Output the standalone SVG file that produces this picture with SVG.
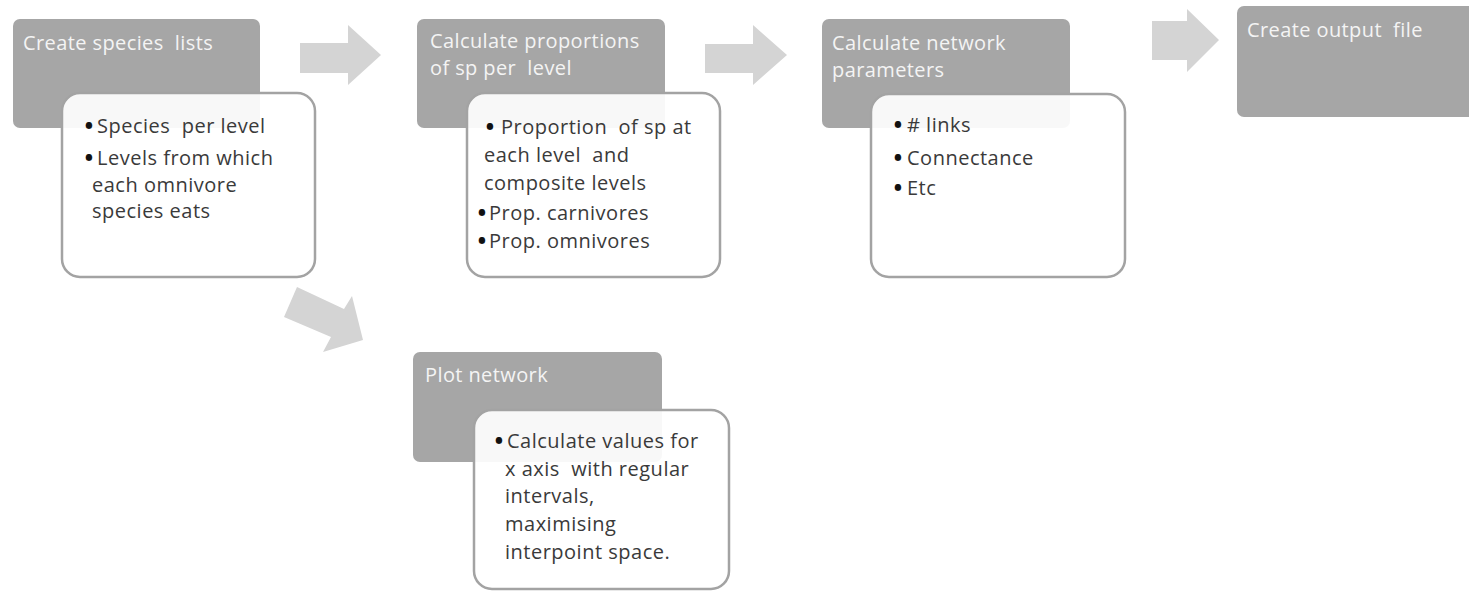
<svg xmlns="http://www.w3.org/2000/svg" width="1469" height="591" viewBox="0 0 1469 591">
  <style>
    text { white-space: pre; }
    .head { fill: #a6a6a6; }
    .body { fill: #ffffff; fill-opacity: 0.92; stroke: #a3a3a3; stroke-width: 2.5; }
    .title { font-family: "Open Sans", "Liberation Sans", sans-serif; font-size: 20px; letter-spacing: 0.4px; fill: #f4f4f4; }
    .txt { font-family: "Open Sans", "Liberation Sans", sans-serif; font-size: 20px; letter-spacing: 0.5px; fill: #3a3a3a; }
    .bul { font-weight: 800; fill: #111111; letter-spacing: 0; }
    .arrow { fill: #d4d4d4; }
  </style>
  <rect width="1469" height="591" fill="#ffffff"/>

  <g id="connectors">
    <polygon class="arrow" points="300,43 348,43 348,25 381,55 348,85 348,73 300,73"/>
    <polygon class="arrow" points="705,44 753,44 753,25 787,55 753,85 753,73 705,73"/>
    <polygon class="arrow" points="1152,21 1187,21 1187,9 1219,40 1187,72 1187,60 1152,60"/>
    <polygon class="arrow" points="297,287 344,309 352,296 363,340 323,352 331,337 284,317"/>
  </g>

  <g id="node-species">
    <rect class="head" x="13" y="19" width="247" height="109" rx="7"/>
    <text class="title" x="23" y="50">Create species  lists</text>
    <rect class="body" x="62" y="93" width="253" height="184" rx="18"/>
    <text class="txt" x="85" y="133"><tspan class="bul">•</tspan><tspan x="97">Species  per level</tspan></text>
    <text class="txt" x="85" y="165"><tspan class="bul">•</tspan><tspan x="97">Levels from which</tspan></text>
    <text class="txt" x="92" y="192">each omnivore</text>
    <text class="txt" x="92" y="218">species eats</text>
  </g>

  <g id="node-proportions">
    <rect class="head" x="417" y="19" width="248" height="109" rx="7"/>
    <text class="title" x="430" y="48">Calculate proportions</text>
    <text class="title" x="430" y="75">of sp per  level</text>
    <rect class="body" x="467" y="93" width="253" height="184" rx="18"/>
    <text class="txt" x="486" y="134"><tspan class="bul">•</tspan><tspan x="501">Proportion  of sp at</tspan></text>
    <text class="txt" x="484" y="162">each level  and</text>
    <text class="txt" x="484" y="190">composite levels</text>
    <text class="txt" x="478" y="220"><tspan class="bul">•</tspan><tspan x="489">Prop. carnivores</tspan></text>
    <text class="txt" x="478" y="248"><tspan class="bul">•</tspan><tspan x="489">Prop. omnivores</tspan></text>
  </g>

  <g id="node-network">
    <rect class="head" x="822" y="19" width="248" height="109" rx="7"/>
    <text class="title" x="832" y="50">Calculate network</text>
    <text class="title" x="832" y="77">parameters</text>
    <rect class="body" x="871" y="94" width="254" height="183" rx="18"/>
    <text class="txt" x="894" y="132"><tspan class="bul">•</tspan><tspan x="907"># links</tspan></text>
    <text class="txt" x="894" y="165"><tspan class="bul">•</tspan><tspan x="907">Connectance</tspan></text>
    <text class="txt" x="894" y="195"><tspan class="bul">•</tspan><tspan x="907">Etc</tspan></text>
  </g>

  <g id="node-output">
    <rect class="head" x="1237" y="6" width="250" height="111" rx="7"/>
    <text class="title" x="1247" y="37">Create output  file</text>
  </g>

  <g id="node-plot">
    <rect class="head" x="413" y="352" width="249" height="110" rx="7"/>
    <text class="title" x="425" y="382">Plot network</text>
    <rect class="body" x="474" y="410" width="255" height="179" rx="18"/>
    <text class="txt" x="495" y="448"><tspan class="bul">•</tspan><tspan x="507">Calculate values for</tspan></text>
    <text class="txt" x="505" y="476">x axis  with regular</text>
    <text class="txt" x="505" y="503">intervals,</text>
    <text class="txt" x="505" y="531">maximising</text>
    <text class="txt" x="505" y="559">interpoint space.</text>
  </g>
</svg>
